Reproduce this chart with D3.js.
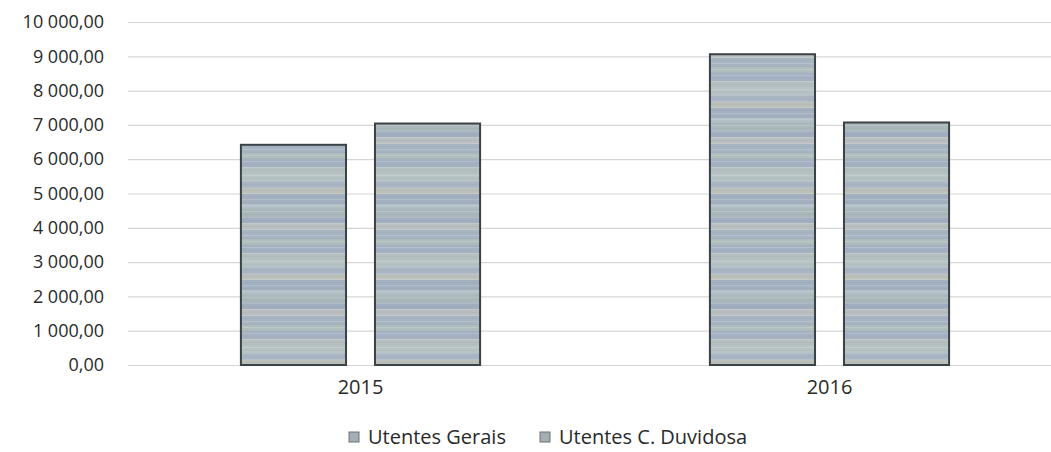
<!DOCTYPE html>
<html>
<head>
<meta charset="utf-8">
<script src="https://cdn.jsdelivr.net/npm/d3@7"></script>
<style>
  html, body { margin: 0; padding: 0; background: #fff; }
  svg text { font-family: "Open Sans", sans-serif; fill: #2a2a2a; }
</style>
</head>
<body>
<div id="chart"></div>
<script>
// data
var years = ["2015", "2016"];
var series = ["Utentes Gerais", "Utentes C. Duvidosa"];
var gerais = [6420, 9060];
var duvidosa = [7040, 7070];
var yTicks = [0, 1000, 2000, 3000, 4000, 5000, 6000, 7000, 8000, 9000, 10000];

var width = 1051, height = 452;

var svg = d3.select("#chart")
    .append("svg")
    .attr("width", width)
    .attr("height", height);

// textured fill for the bars (scanned look): bands of muted grey-blue-green
var defs = svg.append("defs");
var bands = [
    ["#b7c3c3", 9], ["#a9b5c3", 7], ["#bcc0ba", 6], ["#a2b0c0", 10],
    ["#b3bfc6", 5], ["#aab8bb", 8], ["#a0aebf", 6], ["#b9bec0", 7],
    ["#a7b5c3", 9], ["#b0bdbd", 6], ["#a4b1c2", 8], ["#b6bfbf", 5]
];
var patH = d3.sum(bands, function (b) { return b[1]; });
var pat = defs.append("pattern")
    .attr("id", "tex")
    .attr("patternUnits", "userSpaceOnUse")
    .attr("width", 20)
    .attr("height", patH);
var yy = 0;
bands.forEach(function (b) {
    pat.append("rect")
        .attr("x", 0).attr("y", yy)
        .attr("width", 20).attr("height", b[1])
        .attr("fill", b[0]);
    yy += b[1];
});
// faint horizontal scan lines
for (var i = 0; i < patH; i += 3) {
    pat.append("rect")
        .attr("x", 0).attr("y", i)
        .attr("width", 20).attr("height", 1)
        .attr("fill", i % 2 ? "#ffffff" : "#8f9aa3")
        .attr("opacity", 0.15);
}

// scales
var y = d3.scaleLinear()
    .domain([0, 10000])
    .range([365, 22]);

var x0 = d3.scaleBand()
    .domain(years)
    .range([126, 1064])
    .paddingInner(0.49)
    .paddingOuter(0.245);

var x1 = d3.scaleBand()
    .domain(series)
    .range([0, x0.bandwidth()])
    .paddingInner(0.216);

var fmt = function (v) {
    var s = d3.format(",.2f")(v);
    return s.replace(/,/g, " ").replace(".", ",");
};

// gridlines + y labels
var yAxis = d3.axisLeft(y)
    .tickValues(yTicks)
    .tickSize(-(width - 128))
    .tickPadding(24)
    .tickFormat(fmt);

var gy = svg.append("g")
    .attr("transform", "translate(128,0)")
    .call(yAxis);
gy.select(".domain").remove();
gy.selectAll(".tick line")
    .attr("stroke", "#d6d6d6")
    .attr("stroke-width", 1.2);
gy.selectAll(".tick text")
    .attr("font-size", "18px")
    .attr("fill", "#2a2a2a");

// bars
var rows = years.map(function (yr, i) {
    return { year: yr, values: [gerais[i], duvidosa[i]] };
});

var groups = svg.append("g")
    .selectAll("g")
    .data(rows)
    .enter()
    .append("g")
    .attr("transform", function (d) { return "translate(" + x0(d.year) + ",0)"; });

groups.selectAll("rect")
    .data(function (d) {
        return d.values.map(function (v, j) { return { key: series[j], value: v }; });
    })
    .enter()
    .append("rect")
    .attr("x", function (d) { return x1(d.key); })
    .attr("y", function (d) { return y(d.value); })
    .attr("width", x1.bandwidth())
    .attr("height", function (d) { return y(0) - y(d.value); })
    .attr("fill", "url(#tex)")
    .attr("stroke", "#3b4246")
    .attr("stroke-width", 2);

// x axis labels
var xAxis = d3.axisBottom(x0).tickSize(0).tickPadding(15);
var gx = svg.append("g")
    .attr("transform", "translate(0," + y(0) + ")")
    .call(xAxis);
gx.select(".domain").remove();
gx.selectAll(".tick text")
    .attr("font-size", "20px")
    .attr("fill", "#2a2a2a");

// legend
var legendX = [349, 540];
var legend = svg.append("g")
    .selectAll("g")
    .data(series)
    .enter()
    .append("g")
    .attr("transform", function (d, i) { return "translate(" + legendX[i] + ",432)"; });

legend.append("rect")
    .attr("width", 10)
    .attr("height", 10)
    .attr("fill", "#a5aeb3")
    .attr("stroke", "#6d7377")
    .attr("stroke-width", 1);

legend.append("text")
    .attr("x", 19)
    .attr("y", 12)
    .attr("font-size", "20px")
    .text(function (d) { return d; });
</script>
</body>
</html>
